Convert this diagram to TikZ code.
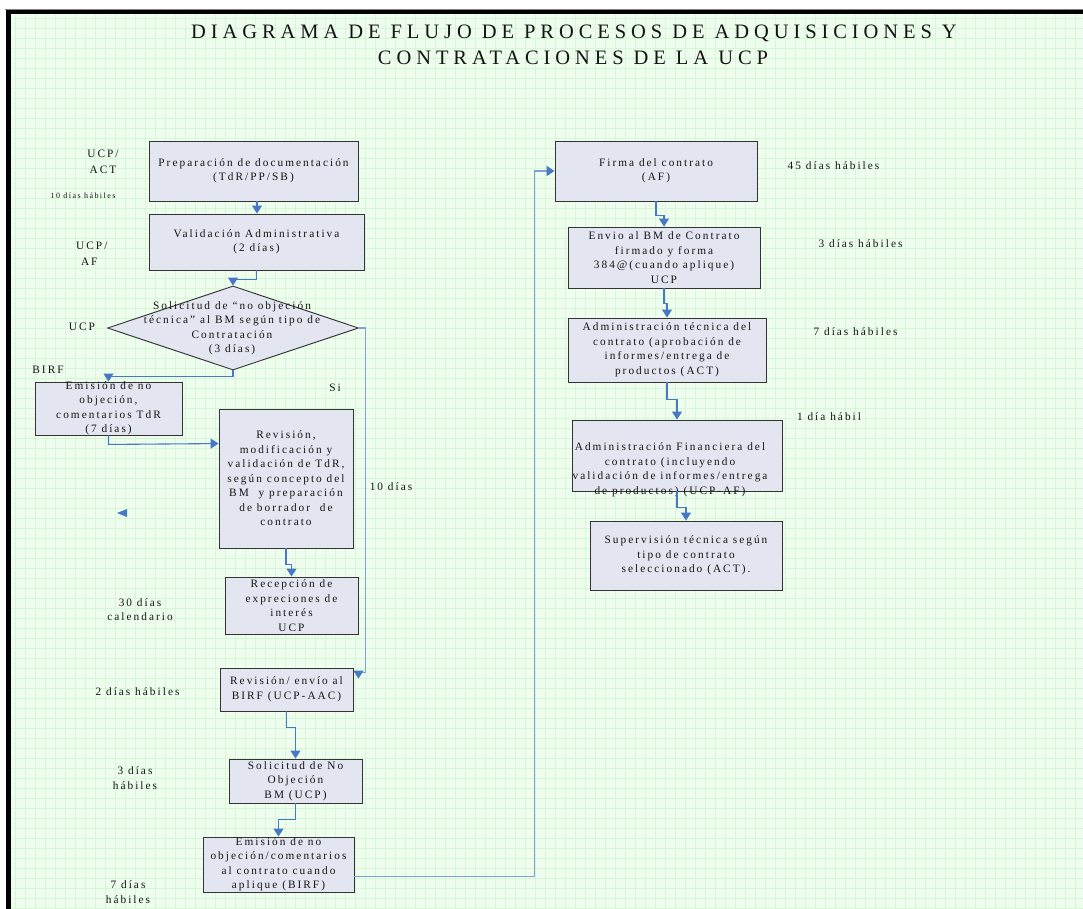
\documentclass[tikz,border=0pt]{standalone}
\usepackage{fontspec}
\setmainfont{Liberation Serif}
\newfontfamily\spacedfont[LetterSpace=18]{Liberation Serif}
\newfontfamily\titlefont[LetterSpace=24]{Liberation Serif}
\usetikzlibrary{arrows.meta,shapes.geometric,calc}
\definecolor{bg}{RGB}{238,253,238}
\definecolor{gridc}{RGB}{214,247,214}
\definecolor{boxfill}{RGB}{227,230,240}
\definecolor{conn}{RGB}{70,120,195}
\definecolor{connl}{RGB}{125,160,215}
\definecolor{ink}{RGB}{20,20,20}
\begin{document}
\begin{tikzpicture}[x=1pt,y=-1pt,
  box/.style={draw=black!80, line width=0.9pt, fill=boxfill, inner sep=0pt, rectangle},
  txt/.style={align=center, font=\spacedfont\fontsize{11.3}{14.5}\selectfont, text=ink, inner sep=0pt},
  lbl/.style={align=center, font=\spacedfont\fontsize{11.3}{15}\selectfont, text=ink, inner sep=0pt},
  small/.style={align=center, font=\spacedfont\fontsize{8}{10}\selectfont, text=ink, inner sep=0pt},
  flow/.style={draw=conn, line width=1.1pt, -{Triangle[width=10pt,length=8pt]}},
  linel/.style={draw=connl, line width=1.6pt, -{Triangle[width=10pt,length=8pt,color=conn]}}
]
\useasboundingbox (0,0) rectangle (1083,909);
% frame and background
\fill[white] (0,0) rectangle (1083,909);
\fill[bg] (11,14) rectangle (1083,909);
\foreach \x in {15,25,...,1083} \draw[gridc, line width=0.6pt] (\x,14) -- (\x,909);
\foreach \y in {18,28,...,909} \draw[gridc, line width=0.6pt] (11,\y) -- (1083,\y);
\draw[black!50, line width=0.8pt] (5,9) -- (1083,9);
\fill[black] (6,10) rectangle (1083,14);
\fill[black] (6,10) rectangle (11,909);

% title
\node[font=\titlefont\fontsize{20.5}{25}\selectfont, text=ink, inner sep=0pt] (t1) at (574,33) {DIAGRAMA DE FLUJO DE PROCESOS DE ADQUISICIONES Y};
\node[font=\titlefont\fontsize{20.5}{25}\selectfont, text=ink, inner sep=0pt] (t2) at (573,58) {CONTRATACIONES DE LA UCP};

% left column boxes
\node[box, minimum width=209pt, minimum height=60pt] (A) at (253.5,171) {};
\node[txt] (tA) at (A) {Preparación de documentación\\(TdR/PP/SB)};
\node[box, minimum width=215pt, minimum height=56pt] (B) at (256.5,242) {};
\node[txt] (tB) at (B) {Validación Administrativa\\(2 días)};
\node[diamond, draw=black!80, fill=boxfill, line width=0.9pt, minimum width=251pt, minimum height=84pt, inner sep=0pt] (Dm) at (233,328) {};
\node[txt] (tDm) at (232,328.5) {Solicitud de “no objeción\\técnica” al BM según tipo de\\Contratación\\(3 días)};
\node[box, minimum width=147pt, minimum height=53pt] (C) at (108.5,408.5) {};
\node[txt] (tC) at (C) {Emisión de no\\objeción,\\comentarios TdR\\(7 días)};
\node[box, minimum width=134pt, minimum height=139pt] (D) at (286,478.5) {};
\node[txt] (tD) at (D) {Revisión,\\modificación y\\validación de TdR,\\según concepto del\\BM\ \ y preparación\\de borrador\ \ de\\contrato};
\node[box, minimum width=133pt, minimum height=57pt] (E) at (291.5,605.5) {};
\node[txt] (tE) at (E) {Recepción de\\expreciones de\\interés\\UCP};
\node[box, minimum width=133pt, minimum height=43pt] (F) at (286.5,689.5) {};
\node[txt] (tF) at (F) {Revisión/ envío al\\BIRF (UCP-AAC)};
\node[box, minimum width=133pt, minimum height=44pt] (G) at (295.5,781) {};
\node[txt] (tG) at (G) {Solicitud de No\\Objeción\\BM (UCP)};
\node[box, minimum width=151pt, minimum height=55pt] (H) at (278.5,864.5) {};
\node[txt] (tH) at (H) {Emisión de no\\objeción/comentarios\\al contrato cuando\\aplique (BIRF)};

% right column boxes
\node[box, minimum width=202pt, minimum height=60pt] (I) at (656,171) {};
\node[txt] (tI) at (I) {Firma del contrato\\(AF)};
\node[box, minimum width=192pt, minimum height=61pt] (J) at (664,257.5) {};
\node[txt] (tJ) at (J) {Envio al BM de Contrato\\firmado y forma\\384@(cuando aplique)\\UCP};
\node[box, minimum width=198pt, minimum height=64pt] (K) at (667,350) {};
\node[txt] (tK) at (K) {Administración técnica del\\contrato (aprobación de\\informes/entrega de\\productos (ACT)};
\node[box, minimum width=210pt, minimum height=71pt] (L) at (677,455.5) {};
\node[txt] (tL) at (670,470) {Administración Financiera del\\contrato (incluyendo\\validación de informes/entrega\\de productos) (UCP-AF)};
\node[box, minimum width=192pt, minimum height=69pt] (M) at (686,555.5) {};
\node[txt] (tM) at (M) {Supervisión técnica según\\tipo de contrato\\seleccionado (ACT).};

% side labels
\node[lbl, font=\spacedfont\fontsize{11.3}{16}\selectfont] (l1) at (103,162) {UCP/\\ACT};
\node[small] (l2) at (83,196) {10 días hábiles};
\node[lbl, align=left, anchor=west, font=\spacedfont\fontsize{11.3}{16}\selectfont] (l3) at (76,253.5) {UCP/\\\ AF};
\node[lbl] (l4) at (82,327) {UCP};
\node[lbl] (l5) at (48,370) {BIRF};
\node[lbl] (l6) at (335,388) {Si};
\node[lbl] (l7) at (391,487) {10 días};
\node[lbl, font=\spacedfont\fontsize{11.3}{14}\selectfont] (l8) at (140,610) {30 días\\calendario};
\node[lbl] (l9) at (137.5,692) {2 días hábiles};
\node[lbl] (l10) at (135,778.5) {3 días\\hábiles};
\node[lbl] (l11) at (128,892) {7 días\\hábiles};
\node[lbl] (l12) at (833.5,166) {45 días hábiles};
\node[lbl] (l13) at (860.5,244) {3 días hábiles};
\node[lbl] (l14) at (855.5,332) {7 días hábiles};
\node[lbl] (l15) at (829,417) {1 día hábil};

% connectors
\draw[flow] ([xshift=3.5pt]A.south) -- ([xshift=3.5pt]A.south |- B.north);
\draw[flow] (B.south) -- ++(0,9) -| (Dm.north);
\draw[flow] (Dm.south) -- ++(0,6) -| (C.north);
\draw[flow] (C.south) -- ++(0,9) -- ($(D.north west)+(0,35)$);
\draw[flow] (D.south) -- ++(0,16) -| (E.north);
\draw[linel] (Dm.east) -| ($(F.north east)+(12,5)$) -| ($(F.north east)+(5,11)$);
\draw[flow] (F.south) -- ++(0,16) -| (G.north);
\draw[flow] (G.south) -- ++(0,16) -| (H.north);
\draw[linel] ($(H.south east)+(0,-16)$) -- ++(180,0) |- (I.west);
\draw[flow] (I.south) -- ++(0,14) -| (J.north);
\draw[flow] (J.south) -- ++(0,15) -| (K.north);
\draw[flow] (K.south) -- ++(0,17) -| (L.north);
\draw[flow] (L.south) -- ++(0,16) -| (M.north);

% stray arrowhead
\fill[conn] (127,509) -- (117,513) -- (127,517) -- cycle;
\end{tikzpicture}
\end{document}
